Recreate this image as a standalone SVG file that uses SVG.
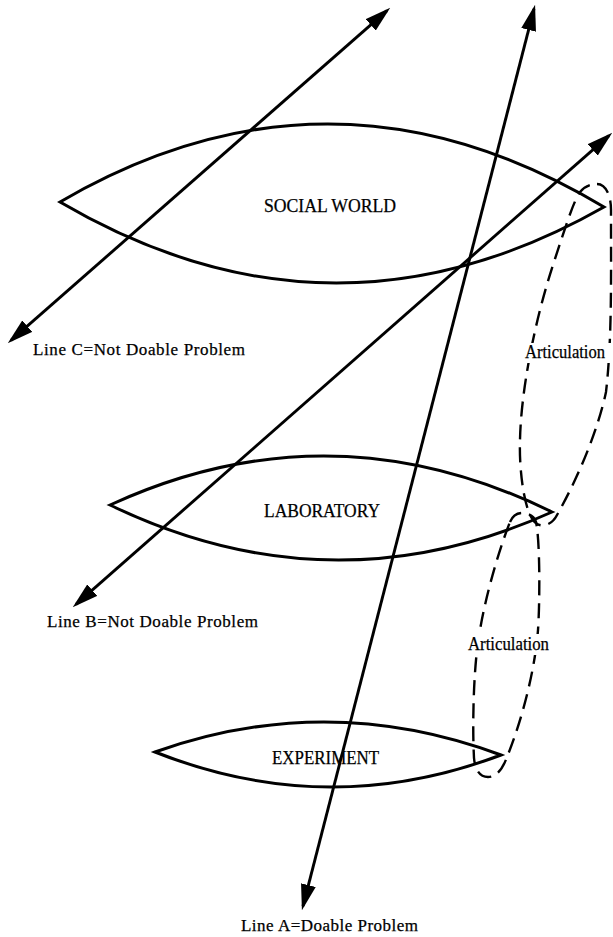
<svg xmlns="http://www.w3.org/2000/svg" width="613" height="937" viewBox="0 0 613 937">
<style>
.lens{fill:none;stroke:#000;stroke-width:3;stroke-linejoin:miter}
.dash{fill:none;stroke:#000;stroke-width:2.4;stroke-dasharray:15 8;stroke-linecap:butt}
.ln{fill:none;stroke:#000;stroke-width:2.9;marker-start:url(#ah);marker-end:url(#ah)}
.t{font-family:"Liberation Serif","Times New Roman",serif;font-size:18px;fill:#000;stroke:#000;stroke-width:0.25}
.lb{font-family:"Liberation Serif","Times New Roman",serif;font-size:17px;fill:#000;stroke:#000;stroke-width:0.25}
</style>
<defs>
<marker id="ah" markerUnits="userSpaceOnUse" markerWidth="26" markerHeight="16" viewBox="0 0 24 14" refX="20" refY="7" orient="auto-start-reverse">
<path d="M0,0 L24,7 L0,14 Z" fill="#000"/>
</marker>
</defs>
<rect width="613" height="937" fill="#fff"/>

<g id="articulation-1">
<path class="dash" d="M597,184 C605,184 611,194 611,210 C611,280 612,340 606,392 C598,430 578,478 557,515 C552,525 540,530 533,520 C524,508 519,470 520,440 C521,390 535,320 553,265 C565,228 574,200 580,192 C585,186 591,184 597,184 Z"/>
<rect x="522" y="343" width="91" height="20" fill="#fff"/>
<text class="t" x="525" y="358" textLength="80" lengthAdjust="spacingAndGlyphs">Articulation</text>
</g>

<g id="articulation-2">
<path class="dash" d="M510,522 C513,515 518,513 522,513 C528,513 534,516 536,522 C540,540 540,600 538,630 C535,670 522,720 507,757 C503,768 497,777 488,777 C480,777 475,770 474,758 C472,720 474,660 480,630 C485,600 497,555 510,522 Z"/>
<rect x="465" y="634" width="87" height="21" fill="#fff"/>
<text class="t" x="468" y="650" textLength="81" lengthAdjust="spacingAndGlyphs">Articulation</text>
</g>

<g id="node-social-world">
<path class="lens" d="M60,202 Q332,43.5 604,207 Q332,361.5 60,202 Z"/>
<text class="t" x="330" y="212" text-anchor="middle" textLength="132" lengthAdjust="spacingAndGlyphs">SOCIAL WORLD</text>
</g>

<g id="node-laboratory">
<path class="lens" d="M110,505 Q331,403.5 552,512 Q331,611.5 110,505 Z"/>
<text class="t" x="322" y="517" text-anchor="middle" textLength="116" lengthAdjust="spacingAndGlyphs">LABORATORY</text>
</g>

<g id="node-experiment">
<path class="lens" d="M155,752 Q328,690.5 501,755 Q328,820.5 155,752 Z"/>
<text class="t" x="325.5" y="764" text-anchor="middle" textLength="107" lengthAdjust="spacingAndGlyphs">EXPERIMENT</text>
</g>

<g id="connectors">
<line id="line-c" class="ln" x1="387" y1="10.6" x2="11" y2="340.4"/>
<line id="line-b" class="ln" x1="609" y1="135.6" x2="76" y2="604.4"/>
<line id="line-a" class="ln" x1="534" y1="8.9" x2="303" y2="906.1"/>
</g>

<g id="labels">
<text class="lb" x="33" y="355" textLength="212" lengthAdjust="spacing">Line C=Not Doable Problem</text>
<text class="lb" x="47" y="627" textLength="211" lengthAdjust="spacing">Line B=Not Doable Problem</text>
<text class="lb" x="241" y="931" textLength="177" lengthAdjust="spacing">Line A=Doable Problem</text>
</g>
</svg>
